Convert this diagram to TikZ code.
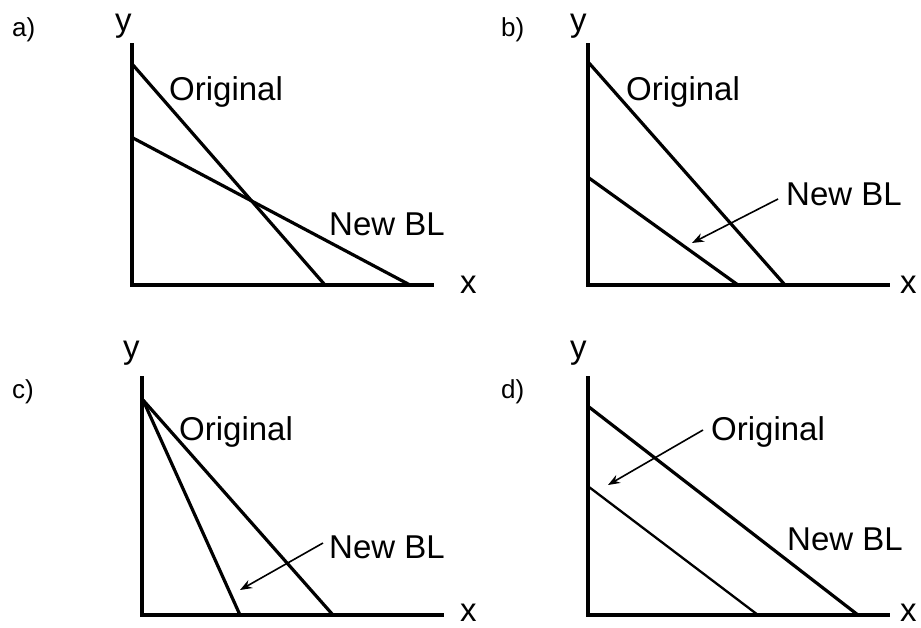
\documentclass[tikz,border=0pt]{standalone}
\usepackage{fontspec}
\setmainfont{Liberation Sans}
\usetikzlibrary{arrows.meta}
\begin{document}
\begin{tikzpicture}[x=1pt,y=-1pt,
  axisline/.style={line width=4.3pt,line cap=rect},
  bline/.style={line width=3.2pt},
  thinbline/.style={line width=2.3pt},
  pointer/.style={line width=1.6pt,-{Stealth[length=12pt,width=9pt]}},
  lbl/.style={inner sep=0pt,anchor=base west,font=\fontsize{33}{36}\selectfont},
  tag/.style={inner sep=0pt,anchor=base west,font=\fontsize{26}{28}\selectfont}]
\useasboundingbox[fill=white] (0,0) rectangle (921,627);
% ---------- panel a ----------
\node[tag] (ta) at (12,36) {a)};
\node[lbl] (ya) at (115,31) {y};
\node[lbl] (xa) at (460,293) {x};
\coordinate (aT) at (132,45);
\coordinate (aO) at (132,285);
\coordinate (aR) at (432,285);
\draw[axisline] (aT) -- (aO) -- (aR);
\coordinate (aO1) at (133,65);  \coordinate (aO2) at (325,285);
\coordinate (aN1) at (133,138); \coordinate (aN2) at (410,285);
\draw[bline] (aO1) -- (aO2);
\draw[bline] (aN1) -- (aN2);
\node[lbl] (oa) at (169,100) {Original};
\node[lbl] (na) at (329,235) {New BL};
% ---------- panel b ----------
\node[tag] (tb) at (501,36) {b)};
\node[lbl] (yb) at (570,31) {y};
\node[lbl] (xb) at (900,293) {x};
\coordinate (bT) at (588,45);
\coordinate (bO) at (588,285);
\coordinate (bR) at (888,285);
\draw[axisline] (bT) -- (bO) -- (bR);
\coordinate (bO1) at (589,63);  \coordinate (bO2) at (785,285);
\coordinate (bN1) at (589,178); \coordinate (bN2) at (738,285);
\draw[bline] (bO1) -- (bO2);
\draw[bline] (bN1) -- (bN2);
\node[lbl] (ob) at (626,100) {Original};
\node[lbl] (nb) at (786,205) {New BL};
\coordinate (bA1) at (778,199); \coordinate (bA2) at (692,243);
\draw[pointer] (bA1) -- (bA2);
% ---------- panel c ----------
\node[tag] (tc) at (12,398) {c)};
\node[lbl] (yc) at (123,358) {y};
\node[lbl] (xc) at (460,621) {x};
\coordinate (cT) at (142,378);
\coordinate (cO) at (142,615);
\coordinate (cR) at (442,615);
\draw[axisline] (cT) -- (cO) -- (cR);
\coordinate (cP) at (143,400);
\coordinate (cO2) at (333,615);
\coordinate (cN2) at (240,615);
\draw[bline] (cP) -- (cO2);
\draw[bline] (cP) -- (cN2);
\node[lbl] (oc) at (179,440) {Original};
\node[lbl] (nc) at (329,558) {New BL};
\coordinate (cA1) at (323,543); \coordinate (cA2) at (240,590);
\draw[pointer] (cA1) -- (cA2);
% ---------- panel d ----------
\node[tag] (td) at (501,398) {d)};
\node[lbl] (yd) at (570,358) {y};
\node[lbl] (xd) at (900,621) {x};
\coordinate (dT) at (588,378);
\coordinate (dO) at (588,615);
\coordinate (dR) at (888,615);
\draw[axisline] (dT) -- (dO) -- (dR);
\coordinate (dO1) at (589,407); \coordinate (dO2) at (858,615);
\coordinate (dN1) at (589,487); \coordinate (dN2) at (758,615);
\draw[bline] (dO1) -- (dO2);
\draw[thinbline] (dN1) -- (dN2);
\node[lbl] (od) at (711,440) {Original};
\node[lbl] (nd) at (787,550) {New BL};
\coordinate (dA1) at (703,430); \coordinate (dA2) at (608,485);
\draw[pointer] (dA1) -- (dA2);
\end{tikzpicture}
\end{document}
